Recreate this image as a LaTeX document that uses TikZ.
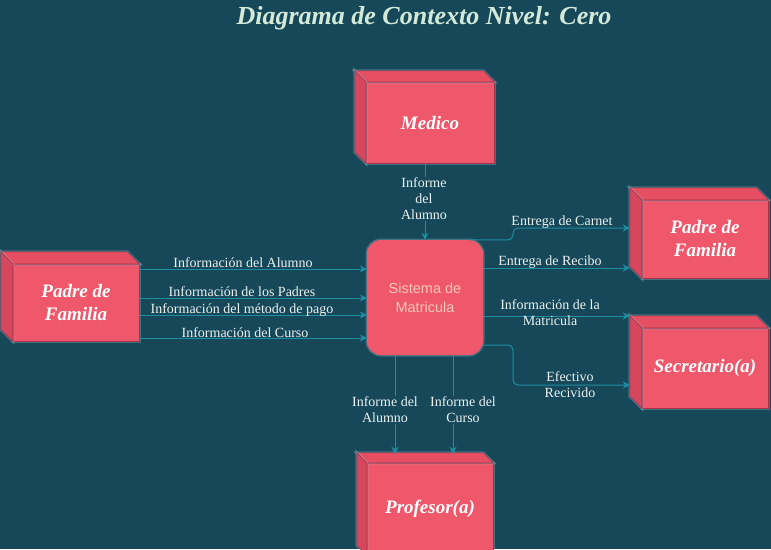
\documentclass[tikz,border=0pt]{standalone}
\usepackage{fontspec}
\setmainfont{Liberation Serif}
\setsansfont{Liberation Sans}
\usetikzlibrary{arrows.meta,calc}
\definecolor{bg}{RGB}{22,72,90}
\definecolor{boxc}{RGB}{239,88,106}
\definecolor{boxside}{RGB}{214,70,92}
\definecolor{boxtop}{RGB}{230,78,98}
\definecolor{boxedge}{RGB}{165,50,75}
\definecolor{conncol}{RGB}{30,142,162}
\definecolor{lbltxt}{RGB}{235,242,240}
\definecolor{titletxt}{RGB}{212,234,216}
\definecolor{systxt}{RGB}{245,200,186}
\definecolor{glowc}{RGB}{150,190,200}
\newcommand\cubefaces[2]{%
  \fill[boxtop,draw=boxedge,line width=.5pt,glow] (#1.north west) -- ++(-#2,-#2) -- ($(#1.north east)+(-#2,-#2)$) -- (#1.north east) -- cycle;
  \fill[boxside,draw=boxedge,line width=.5pt,glow] (#1.north west) -- ++(-#2,-#2) -- ($(#1.south west)+(-#2,-#2)$) -- (#1.south west) -- cycle;}
\begin{document}
\begin{tikzpicture}[x=1pt,y=-1pt,
  glow/.style={preaction={draw=glowc, draw opacity=.35, line width=3pt}},
  ent/.style={rectangle, fill=boxc, draw=boxedge, line width=.5pt, inner sep=0pt, text=white, align=center, font=\bfseries\itshape\fontsize{19}{23}\selectfont, glow},
  sysbox/.style={rectangle, rounded corners=14pt, fill=boxc, minimum width=116pt, minimum height=115pt, text=systxt, align=center, font=\sffamily\fontsize{14.5}{19}\selectfont, glow},
  conn/.style={draw=conncol, line width=1pt, -{Stealth[length=7pt,width=7pt]}},
  lbl/.style={text=lbltxt, align=center, inner sep=1pt, font=\fontsize{14}{16}\selectfont},
  titlestyle/.style={text=titletxt, font=\bfseries\itshape\fontsize{26}{30}\selectfont}]
\fill[bg] (0,0) rectangle (771,549);
\useasboundingbox (0,0) rectangle (771,549);
\clip (0,0) rectangle (771,549);

\node[titlestyle] (title) at (424,18) {Diagrama de Contexto Nivel: Cero};

\node[ent, minimum width=128pt, minimum height=81pt] (med) at (430,122.5) {Medico};
\cubefaces{med}{11}
\node[ent, minimum width=126pt, minimum height=77pt] (pl) at (76,302.5) {Padre de\\Familia};
\cubefaces{pl}{12}
\node[ent, minimum width=126pt, minimum height=78pt] (pr) at (705,239) {Padre de\\Familia};
\cubefaces{pr}{12}
\node[ent, minimum width=126pt, minimum height=80pt] (sec) at (705,368) {Secretario(a)};
\cubefaces{sec}{12}
\node[ent, minimum width=126pt, minimum height=92pt] (pf) at (430,509) {Profesor(a)};
\cubefaces{pf}{10}

\node[sysbox] (s) at (425,297.5) {Sistema de\\Matricula};

\coordinate (prL) at ($(pr.west)+(-12,0)$);
\coordinate (secL) at ($(sec.west)+(-12,0)$);
\coordinate (pfT) at ($(pf.north)+(0,-9)$);

% connectors
\draw[conn] (s.north |- med.south) -- (s.north);
\foreach \yy in {269,298,315,338}
  \draw[conn] (pl.east |- 0,\yy) -- (s.west |- 0,\yy);
\draw[conn, rounded corners=5pt] ($(s.north east)+(-14,0)$) -- (513,240) -- (513,228) -- (prL |- 0,228);
\draw[conn] (s.east |- 0,268) -- (prL |- 0,268);
\draw[conn] (s.east |- 0,316) -- (secL |- 0,316);
\draw[conn, rounded corners=5pt] (s.east |- 0,345) -- (513,345) -- (513,385) -- (secL |- 0,385);
\draw[conn] (s.south -| 395,0) -- (pfT -| 395,0);
\draw[conn] (s.south -| 453,0) -- (pfT -| 453,0);

% labels
\node[lbl, fill=bg] (lm) at (424,199) {Informe\\del\\Alumno};
\node[lbl] (l1) at (243,263) {Información del Alumno};
\node[lbl] (l2) at (242,292) {Información de los Padres};
\node[lbl] (l3) at (242,310) {Información del método de pago};
\node[lbl] (l4) at (245,333) {Información del Curso};
\node[lbl] (r1) at (562,222) {Entrega de Carnet};
\node[lbl] (r2) at (550,262) {Entrega de Recibo};
\node[lbl] (r3) at (550,313) {Información de la\\Matricula};
\node[lbl] (r4) at (570,385) {Efectivo\\Recivido};
\node[lbl, fill=bg] (b1) at (385,410) {Informe del\\Alumno};
\node[lbl, fill=bg] (b2) at (463,410) {Informe del\\Curso};
\end{tikzpicture}
\end{document}
